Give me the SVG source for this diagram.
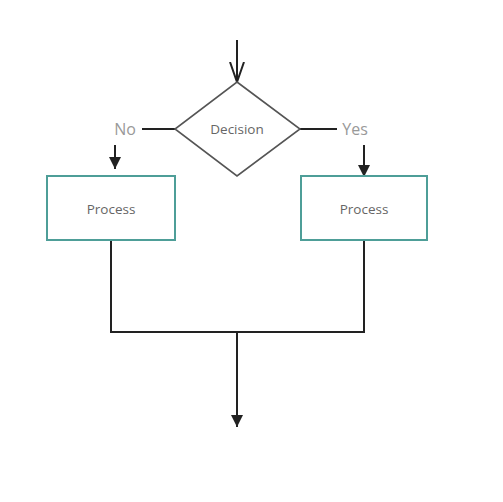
<svg xmlns="http://www.w3.org/2000/svg" width="503" height="502" viewBox="0 0 503 502">
<defs>
<style>
.ln{stroke:#222;stroke-width:2;fill:none}
.box{fill:#fff;stroke:#4e9e98;stroke-width:2}
.dia{fill:#fff;stroke:#555;stroke-width:1.6}
.t{font-family:"Open Sans","Liberation Sans",sans-serif;font-size:13.5px;fill:#666;text-anchor:middle;dominant-baseline:central}
.lb{font-family:"Open Sans","Liberation Sans",sans-serif;font-size:16px;fill:#999;text-anchor:middle;dominant-baseline:central}
</style>
<marker id="fa" viewBox="0 0 10 10" refX="10" refY="5" markerWidth="12" markerHeight="12" markerUnits="userSpaceOnUse" orient="auto">
<path d="M0,0 L10,5 L0,10 Z" fill="#222"/>
</marker>
<marker id="oa" viewBox="0 0 20 16" refX="20" refY="8" markerWidth="20" markerHeight="16" markerUnits="userSpaceOnUse" orient="auto">
<path d="M0,1 L20,8 L0,15" fill="none" stroke="#222" stroke-width="2"/>
</marker>
</defs>
<rect width="503" height="502" fill="#fff"/>
<g id="connectors">
<line class="ln" x1="237" y1="40" x2="237" y2="82" marker-end="url(#oa)"/>
<line class="ln" x1="142" y1="129" x2="175" y2="129"/>
<line class="ln" x1="300" y1="129" x2="337" y2="129"/>
<line class="ln" x1="115" y1="145" x2="115" y2="169" marker-end="url(#fa)"/>
<line class="ln" x1="364" y1="145" x2="364" y2="177" marker-end="url(#fa)"/>
<polyline class="ln" points="111,240 111,332 364,332 364,240"/>
<line class="ln" x1="237" y1="332" x2="237" y2="427" marker-end="url(#fa)"/>
<text class="lb" x="125" y="129">No</text>
<text class="lb" x="355" y="129">Yes</text>
</g>
<g id="decision">
<polygon class="dia" points="237,82 300,129 237,176 175,129"/>
<text class="t" x="237" y="129">Decision</text>
</g>
<g id="process-left">
<rect class="box" x="47" y="176" width="128" height="64"/>
<text class="t" x="111" y="209">Process</text>
</g>
<g id="process-right">
<rect class="box" x="301" y="176" width="126" height="64"/>
<text class="t" x="364" y="209">Process</text>
</g>
</svg>
